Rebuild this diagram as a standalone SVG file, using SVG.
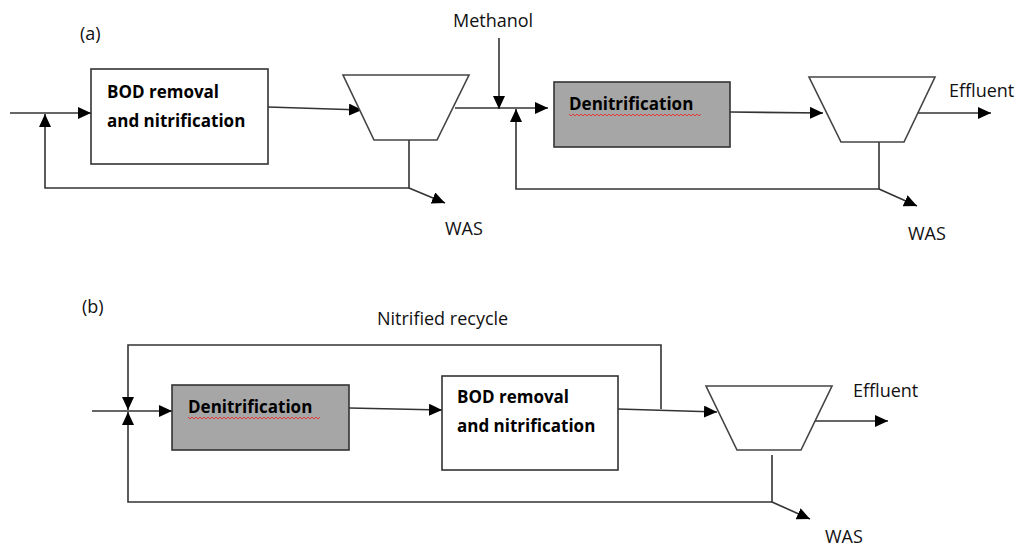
<svg xmlns="http://www.w3.org/2000/svg" width="1018" height="548" viewBox="0 0 1018 548">
<defs>
<marker id="ah" markerUnits="userSpaceOnUse" markerWidth="14" markerHeight="12" refX="13" refY="6" orient="auto">
<path d="M0,0 L13,6 L0,12 z" fill="#000"/>
</marker>
<style>
.ln{fill:none;stroke:#333;stroke-width:1.6}
.arr{fill:none;stroke:#333;stroke-width:1.6;marker-end:url(#ah)}
.box{fill:#fff;stroke:#333;stroke-width:1.6}
.gbox{fill:#a6a6a6;stroke:#333;stroke-width:1.6}
.clar{fill:#fff;stroke:#444;stroke-width:1.6}
.t{font-family:"Open Sans","Liberation Sans",sans-serif;font-size:18px;fill:#111}
.b{font-family:"Open Sans","Liberation Sans",sans-serif;font-size:17px;font-weight:bold;fill:#000}
.sq{fill:none;stroke:#e03a3a;stroke-width:1}
</style>
</defs>
<rect width="1018" height="548" fill="#fff"/>

<text class="t" x="80" y="40">(a)</text>
<text class="t" x="82" y="313">(b)</text>

<g id="connectors">
<!-- (a) -->
<line class="arr" x1="10" y1="113" x2="91" y2="113"/>
<polyline class="arr" points="409,140 409,188 45,188 45,114"/>
<line class="arr" x1="268" y1="107" x2="362" y2="110"/>
<line class="arr" x1="409" y1="188" x2="445" y2="203"/>
<line class="arr" x1="455" y1="108" x2="548" y2="108"/>
<line class="arr" x1="499" y1="38" x2="499" y2="109"/>
<polyline class="arr" points="879,142 879,189 516,189 516,109"/>
<line class="arr" x1="730" y1="112" x2="823" y2="113"/>
<line class="arr" x1="918" y1="113" x2="991" y2="113"/>
<line class="arr" x1="879" y1="189" x2="917" y2="206"/>
<!-- (b) -->
<line class="arr" x1="92" y1="411" x2="172" y2="411"/>
<polyline class="arr" points="661,409 661,345 128,345 128,410"/>
<polyline class="arr" points="772,455 772,502 128,502 128,412"/>
<line class="arr" x1="349" y1="408" x2="442" y2="410"/>
<line class="arr" x1="618" y1="409" x2="717" y2="412"/>
<line class="arr" x1="815" y1="421" x2="888" y2="421"/>
<line class="arr" x1="772" y1="502" x2="810" y2="519"/>
</g>

<g id="bod-a">
<rect class="box" x="91" y="69" width="177" height="95"/>
<text class="b" x="107" y="98">BOD removal</text>
<text class="b" x="107" y="127">and nitrification</text>
</g>
<g id="clarifier-a1">
<polygon class="clar" points="343,75 469,75 437,140 374,140"/>
</g>
<g id="denit-a">
<rect class="gbox" x="554" y="82" width="176" height="65"/>
<text class="b" x="569" y="110">Denitrification</text>
<path class="sq" d="M569,114 l2,2 l2,-2 l2,2 l2,-2 l2,2 l2,-2 l2,2 l2,-2 l2,2 l2,-2 l2,2 l2,-2 l2,2 l2,-2 l2,2 l2,-2 l2,2 l2,-2 l2,2 l2,-2 l2,2 l2,-2 l2,2 l2,-2 l2,2 l2,-2 l2,2 l2,-2 l2,2 l2,-2 l2,2 l2,-2 l2,2 l2,-2 l2,2 l2,-2 l2,2 l2,-2 l2,2 l2,-2 l2,2 l2,-2 l2,2 l2,-2 l2,2 l2,-2 l2,2 l2,-2 l2,2 l2,-2 l2,2 l2,-2 l2,2 l2,-2 l2,2 l2,-2 l2,2 l2,-2 l2,2 l2,-2 l2,2 l2,-2 l2,2 l2,-2 l2,2 l2,-2"/>
</g>
<g id="clarifier-a2">
<polygon class="clar" points="809,77 935,77 904,142 841,142"/>
</g>
<g id="labels-a">
<text class="t" x="453" y="27">Methanol</text>
<text class="t" x="949" y="97">Effluent</text>
<text class="t" x="445" y="235">WAS</text>
<text class="t" x="908" y="240">WAS</text>
</g>

<g id="denit-b">
<rect class="gbox" x="172" y="385" width="177" height="65"/>
<text class="b" x="188" y="413">Denitrification</text>
<path class="sq" d="M188,417 l2,2 l2,-2 l2,2 l2,-2 l2,2 l2,-2 l2,2 l2,-2 l2,2 l2,-2 l2,2 l2,-2 l2,2 l2,-2 l2,2 l2,-2 l2,2 l2,-2 l2,2 l2,-2 l2,2 l2,-2 l2,2 l2,-2 l2,2 l2,-2 l2,2 l2,-2 l2,2 l2,-2 l2,2 l2,-2 l2,2 l2,-2 l2,2 l2,-2 l2,2 l2,-2 l2,2 l2,-2 l2,2 l2,-2 l2,2 l2,-2 l2,2 l2,-2 l2,2 l2,-2 l2,2 l2,-2 l2,2 l2,-2 l2,2 l2,-2 l2,2 l2,-2 l2,2 l2,-2 l2,2 l2,-2 l2,2 l2,-2 l2,2 l2,-2 l2,2 l2,-2"/>
</g>
<g id="bod-b">
<rect class="box" x="442" y="376" width="176" height="94"/>
<text class="b" x="457" y="403">BOD removal</text>
<text class="b" x="457" y="432">and nitrification</text>
</g>
<g id="clarifier-b">
<polygon class="clar" points="706,386 832,386 801,450 737,450"/>
</g>
<g id="labels-b">
<text class="t" x="377" y="325">Nitrified recycle</text>
<text class="t" x="853" y="397">Effluent</text>
<text class="t" x="825" y="543">WAS</text>
</g>
</svg>
